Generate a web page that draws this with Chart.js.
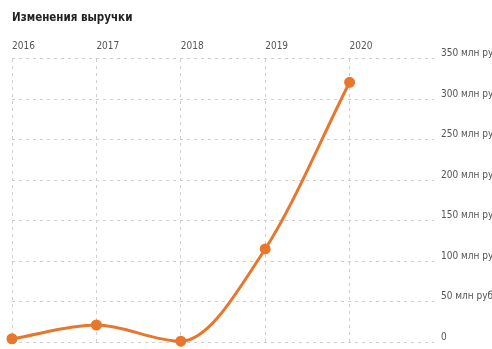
<!DOCTYPE html>
<html>
<head>
<meta charset="utf-8">
<script src="https://cdn.jsdelivr.net/npm/chart.js@4"></script>
<style>
  html, body { margin: 0; padding: 0; background: #fff; }
  #wrap { width: 492px; height: 349px; }
</style>
</head>
<body>
<div id="wrap"><canvas id="revenueChart"></canvas></div>
<script>
const years = [2016, 2017, 2018, 2019, 2020];
const revenue = [4, 21, 1, 115, 321];   // млн руб.
const yTicks = [0, 50, 100, 150, 200, 250, 300, 350];

const fontFamily = '"DejaVu Sans Condensed", "Liberation Sans Narrow", "Open Sans", sans-serif';
const orange = '#e8772e';
const gridColor = '#cfcfcf';

const points = years.map((y, i) => ({ x: y, y: revenue[i] }));

new Chart(document.getElementById('revenueChart'), {
  type: 'line',
  data: {
    datasets: [{
      label: 'Выручка',
      data: points,
      borderColor: orange,
      backgroundColor: orange,
      borderWidth: 3,
      pointRadius: 4,
      pointHoverRadius: 4,
      cubicInterpolationMode: 'monotone',
      clip: false
    }]
  },
  options: {
    responsive: true,
    maintainAspectRatio: false,
    animation: false,
    layout: { padding: { top: 0, left: 12, right: 0, bottom: 4 } },
    plugins: {
      legend: { display: false },
      tooltip: { enabled: false },
      title: {
        display: true,
        text: 'Изменения выручки',
        align: 'start',
        color: '#222',
        font: { family: fontFamily, size: 11.5, weight: 'bold' },
        padding: { top: 11, bottom: 10 }
      }
    },
    scales: {
      x: {
        type: 'linear',
        position: 'top',
        min: 2016,
        max: 2021,
        grid: {
          drawTicks: false,
          color: ctx => ctx.tick && ctx.tick.value === 2021 ? 'rgba(0,0,0,0)' : gridColor,
          lineWidth: 1
        },
        border: { display: false, dash: [3, 4] },
        ticks: {
          stepSize: 1,
          align: 'start',
          padding: 6,
          color: '#555',
          font: { family: fontFamily, size: 10 },
          callback: v => years.includes(v) ? String(v) : ''
        }
      },
      y: {
        position: 'right',
        min: yTicks[0],
        max: yTicks[yTicks.length - 1],
        afterFit: scale => {
          scale.width = 58;
          scale.paddingTop = 0;
          scale.paddingBottom = 0;
        },
        afterBuildTicks: scale => { scale.ticks = yTicks.map(v => ({ value: v })); },
        grid: { drawTicks: false, color: gridColor, lineWidth: 1 },
        border: { display: false, dash: [3, 4] },
        ticks: {
          padding: 7,
          labelOffset: -5,
          color: '#555',
          font: { family: fontFamily, size: 10 },
          callback: v => v === 0 ? '0' : v + ' млн руб.'
        }
      }
    }
  }
});
</script>
</body>
</html>
